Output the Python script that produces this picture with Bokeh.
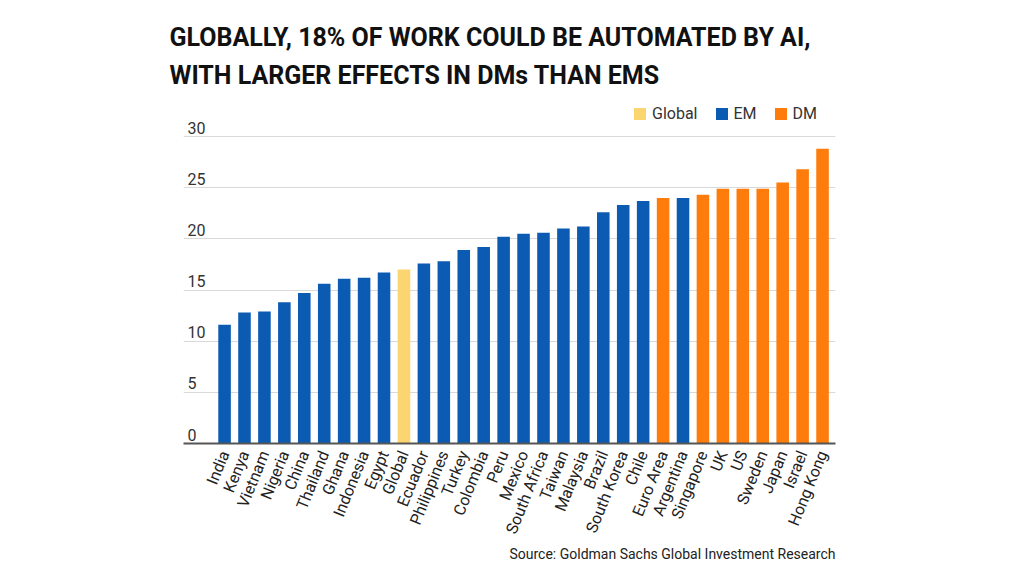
import math
from bokeh.plotting import figure
from bokeh.models import (ColumnDataSource, Range1d, FixedTicker, Legend,
                          LegendItem, Title)
from bokeh.core.properties import value
from bokeh.embed import file_html
from bokeh.resources import INLINE

# ---- data ----
categories = ["India", "Kenya", "Vietnam", "Nigeria", "China", "Thailand",
              "Ghana", "Indonesia", "Egypt", "Global", "Ecuador", "Philippines",
              "Turkey", "Colombia", "Peru", "Mexico", "South Africa", "Taiwan",
              "Malaysia", "Brazil", "South Korea", "Chile", "Euro Area",
              "Argentina", "Singapore", "UK", "US", "Sweden", "Japan", "Israel",
              "Hong Kong"]
values = [11.6, 12.8, 12.9, 13.8, 14.7, 15.6, 16.1, 16.2, 16.7, 17.0, 17.6,
          17.8, 18.9, 19.2, 20.2, 20.5, 20.6, 21.0, 21.2, 22.6, 23.3, 23.7,
          24.0, 24.0, 24.3, 24.9, 24.9, 24.9, 25.5, 26.8, 28.8]
groups = ["EM", "EM", "EM", "EM", "EM", "EM", "EM", "EM", "EM", "Global", "EM",
          "EM", "EM", "EM", "EM", "EM", "EM", "EM", "EM", "EM", "EM", "EM",
          "DM", "EM", "DM", "DM", "DM", "DM", "DM", "DM", "DM"]
legend_order = ["Global", "EM", "DM"]
y_ticks = [0, 5, 10, 15, 20, 25, 30]
y_tick_labels = ["0", "5", "10", "15", "20", "25", "30"]

colors = {"Global": "#fbd56f", "EM": "#0b5bb3", "DM": "#fd7c0c"}
FONT = "Roboto"

x_start, x_end = -2.06, 30.65
y_start, y_end = 0, 34.3

p = figure(width=1024, height=576, output_backend="svg", toolbar_location=None,
           x_range=Range1d(x_start, x_end), y_range=Range1d(y_start, y_end),
           min_border_left=183, min_border_right=189, min_border_top=92,
           min_border_bottom=133, background_fill_color="white",
           border_fill_color="white")
p.outline_line_color = None

renderers = {}
for g in legend_order:
    idx = [i for i, gg in enumerate(groups) if gg == g]
    src = ColumnDataSource(dict(x=idx, top=[values[i] for i in idx]))
    renderers[g] = p.vbar(x="x", top="top", bottom=0, width=0.63, source=src,
                          fill_color=colors[g], line_color=None)

# y tick labels drawn above gridlines, inside the plot
p.text(x=[x_start] * len(y_ticks), y=y_ticks, text=y_tick_labels,
       x_offset=4, y_offset=-3, text_baseline="bottom", text_align="left",
       text_font=value(FONT), text_font_size="16px", text_color="#333333")

p.yaxis.visible = False
p.xgrid.visible = False
p.ygrid.ticker = FixedTicker(ticks=y_ticks)
p.ygrid.grid_line_color = "#d9d9d9"
p.ygrid.grid_line_width = 1

xa = p.xaxis[0]
xa.ticker = FixedTicker(ticks=list(range(len(categories))))
xa.major_label_overrides = {i: c for i, c in enumerate(categories)}
xa.major_label_orientation = math.radians(68)
xa.major_label_text_font = FONT
xa.major_label_text_font_size = "16px"
xa.major_label_text_color = "#222222"
xa.major_label_standoff = 2
xa.axis_line_color = "#555555"
xa.axis_line_width = 2
xa.major_tick_line_color = None
xa.minor_tick_line_color = None

legend = Legend(items=[LegendItem(label=g, renderers=[renderers[g]]) for g in legend_order],
                orientation="horizontal", location=(449, 320),
                glyph_width=15, glyph_height=15, label_standoff=5, spacing=16,
                padding=0, margin=0, border_line_color=None,
                background_fill_alpha=0,
                label_text_font=FONT, label_text_font_size="16px",
                label_text_color="#333333")
p.add_layout(legend)

p.title.text = "GLOBALLY, 18% OF WORK COULD BE AUTOMATED BY AI,\nWITH LARGER EFFECTS IN DMs THAN EMS"
p.title.text_font = FONT
p.title.text_font_style = "bold"
p.title.text_font_size = "25px"
p.title.text_line_height = 1.3
p.title.text_color = "#111111"
p.title.align = "left"
p.title.offset = -14
p.title.standoff = 5

source = Title(text="Source: Goldman Sachs Global Investment Research",
               align="right", text_font=FONT, text_font_size="14px",
               text_font_style="normal", text_color="#222222", standoff=0)
p.add_layout(source, "below")

open("out.html", "w").write(file_html(p, INLINE))
